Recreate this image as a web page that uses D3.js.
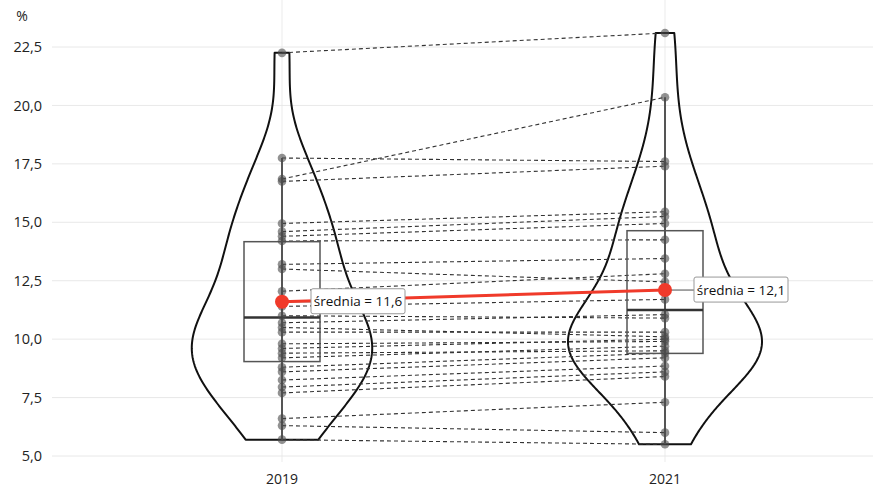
<!DOCTYPE html>
<html><head><meta charset="utf-8">
<script src="https://cdn.jsdelivr.net/npm/d3@7"></script>
<style>body{margin:0;background:#fff}svg{display:block}text{font-family:"Open Sans",sans-serif}</style>
</head><body><svg id="c" width="873" height="489"></svg>
<script>
const categories = ["2019", "2021"];
const values2019 = [22.25,17.75,16.85,16.75,14.95,14.6,14.4,14.2,13.2,13.0,12.05,11.4,11.0,10.7,10.5,10.3,9.8,9.6,9.4,9.2,8.8,8.6,8.25,7.95,7.7,6.6,6.3,5.7];
const values2021 = [23.1,17.6,20.35,17.4,15.45,15.25,14.95,14.25,13.45,12.45,12.8,11.7,10.9,11.05,10.1,10.3,9.9,10.0,9.5,9.7,9.4,9.2,8.85,8.6,8.4,7.3,6.0,5.5];
const boxQ1 = [9.04, 9.39];
const boxMedian = [10.93, 11.25];
const boxQ3 = [14.17, 14.64];
const whiskerLow = [5.7, 5.5];
const whiskerHigh = [17.75, 20.35];
const means = [11.6, 12.1];
const meanLabels = ["średnia = 11,6", "średnia = 12,1"];
const yTicks = [5, 7.5, 10, 12.5, 15, 17.5, 20, 22.5];

const svg = d3.select("#c");
const x = d3.scalePoint().domain(categories).range([282, 665]);
const y = d3.scaleLinear().domain([5, 22.5]).range([456, 47]);
const series = [values2019, values2021];

// grid
svg.append("g").selectAll("line").data(yTicks).join("line")
  .attr("x1", 52).attr("x2", 873).attr("y1", d => y(d)).attr("y2", d => y(d))
  .attr("stroke", "#e2e2e2").attr("stroke-width", 0.8);
svg.append("g").selectAll("line").data(categories).join("line")
  .attr("x1", d => x(d)).attr("x2", d => x(d)).attr("y1", 0).attr("y2", 462)
  .attr("stroke", "#e6e6e6").attr("stroke-width", 0.8);

// y axis labels
const fmt = d => d3.format(".1f")(d).replace(".", ",");
svg.append("g").selectAll("text").data(yTicks).join("text")
  .attr("x", 42).attr("y", d => y(d)).attr("dy", "0.35em").attr("text-anchor", "end")
  .attr("font-size", 14.5).attr("fill", "#222").text(fmt);
svg.append("text").attr("x", 22).attr("y", 21).attr("text-anchor", "middle")
  .attr("font-size", 14).attr("fill", "#222").text("%");
svg.append("g").selectAll("text").data(categories).join("text")
  .attr("x", d => x(d)).attr("y", 484).attr("text-anchor", "middle")
  .attr("font-size", 14).attr("fill", "#222").text(d => d);

// violins (gaussian KDE, nrd0 bandwidth, trimmed)
function nrd0(v) {
  const s = d3.deviation(v);
  const sorted = v.slice().sort(d3.ascending);
  const iqr = d3.quantile(sorted, 0.75) - d3.quantile(sorted, 0.25);
  return 0.9 * Math.min(s, iqr / 1.34) * Math.pow(v.length, -0.2);
}
function kde(v) {
  const bw = nrd0(v);
  const lo = d3.min(v), hi = d3.max(v);
  const n = 256;
  return d3.range(n).map(i => {
    const t = lo + (hi - lo) * i / (n - 1);
    const d = d3.mean(v, xi => Math.exp(-0.5 * ((t - xi) / bw) ** 2) / (bw * Math.sqrt(2 * Math.PI)));
    return [t, d];
  });
}
const dens = series.map(kde);
const maxD = d3.max(dens, ds => d3.max(ds, d => d[1]));
const w = d3.scaleLinear().domain([0, maxD]).range([0, 97]);
dens.forEach((ds, i) => {
  const cx = x(categories[i]);
  const pts = ds.map(d => [cx + w(d[1]), y(d[0])])
    .concat(ds.slice().reverse().map(d => [cx - w(d[1]), y(d[0])]));
  svg.append("path").attr("d", d3.line()(pts) + "Z")
    .attr("fill", "none").attr("stroke", "#111").attr("stroke-width", 2).attr("stroke-linejoin", "round");
});

// dashed connecting lines
svg.append("g").selectAll("line").data(values2019.map((v, i) => [v, values2021[i]])).join("line")
  .attr("x1", x("2019")).attr("x2", x("2021"))
  .attr("y1", d => y(d[0])).attr("y2", d => y(d[1]))
  .attr("stroke", "#333").attr("stroke-width", 1.1).attr("stroke-dasharray", "4,3");

// boxes
categories.forEach((c, i) => {
  const cx = x(c), bw = 38;
  const g = svg.append("g");
  g.append("line").attr("x1", cx).attr("x2", cx).attr("y1", y(whiskerLow[i])).attr("y2", y(whiskerHigh[i]))
    .attr("stroke", "#555").attr("stroke-width", 2);
  g.append("rect").attr("x", cx - bw).attr("width", 2 * bw)
    .attr("y", y(boxQ3[i])).attr("height", y(boxQ1[i]) - y(boxQ3[i]))
    .attr("fill", "none").attr("stroke", "#555").attr("stroke-width", 1.5);
  g.append("line").attr("x1", cx - bw).attr("x2", cx + bw).attr("y1", y(boxMedian[i])).attr("y2", y(boxMedian[i]))
    .attr("stroke", "#333").attr("stroke-width", 2.5);
});

// points
series.forEach((vals, i) => {
  svg.append("g").selectAll("circle").data(vals).join("circle")
    .attr("cx", x(categories[i])).attr("cy", d => y(d)).attr("r", 4.3)
    .attr("fill", "#4a4a4a").attr("fill-opacity", 0.6);
});

// label connectors
categories.forEach((c, i) => {
  svg.append("line").attr("x1", x(c)).attr("x2", x(c) + 30).attr("y1", y(means[i])).attr("y2", y(means[i]))
    .attr("stroke", "#888").attr("stroke-width", 1.5);
});

// mean line
svg.append("path").datum(means)
  .attr("d", d3.line().x((d, i) => x(categories[i])).y(d => y(d)))
  .attr("stroke", "#f03a2a").attr("stroke-width", 3).attr("fill", "none");
svg.append("g").selectAll("circle").data(means).join("circle")
  .attr("cx", (d, i) => x(categories[i])).attr("cy", d => y(d)).attr("r", 7)
  .attr("fill", "#f03a2a");

// labels
categories.forEach((c, i) => {
  const lx = x(c) + 29, ly = y(means[i]);
  const g = svg.append("g");
  g.append("rect").attr("x", lx).attr("y", ly - 13).attr("width", 94).attr("height", 25).attr("rx", 2)
    .attr("fill", "#fff").attr("stroke", "#999").attr("stroke-width", 1);
  g.append("text").attr("x", lx + 47).attr("y", ly).attr("dy", "0.35em").attr("text-anchor", "middle")
    .attr("font-size", 13.5).attr("fill", "#111").text(meanLabels[i]);
});
</script></body></html>
